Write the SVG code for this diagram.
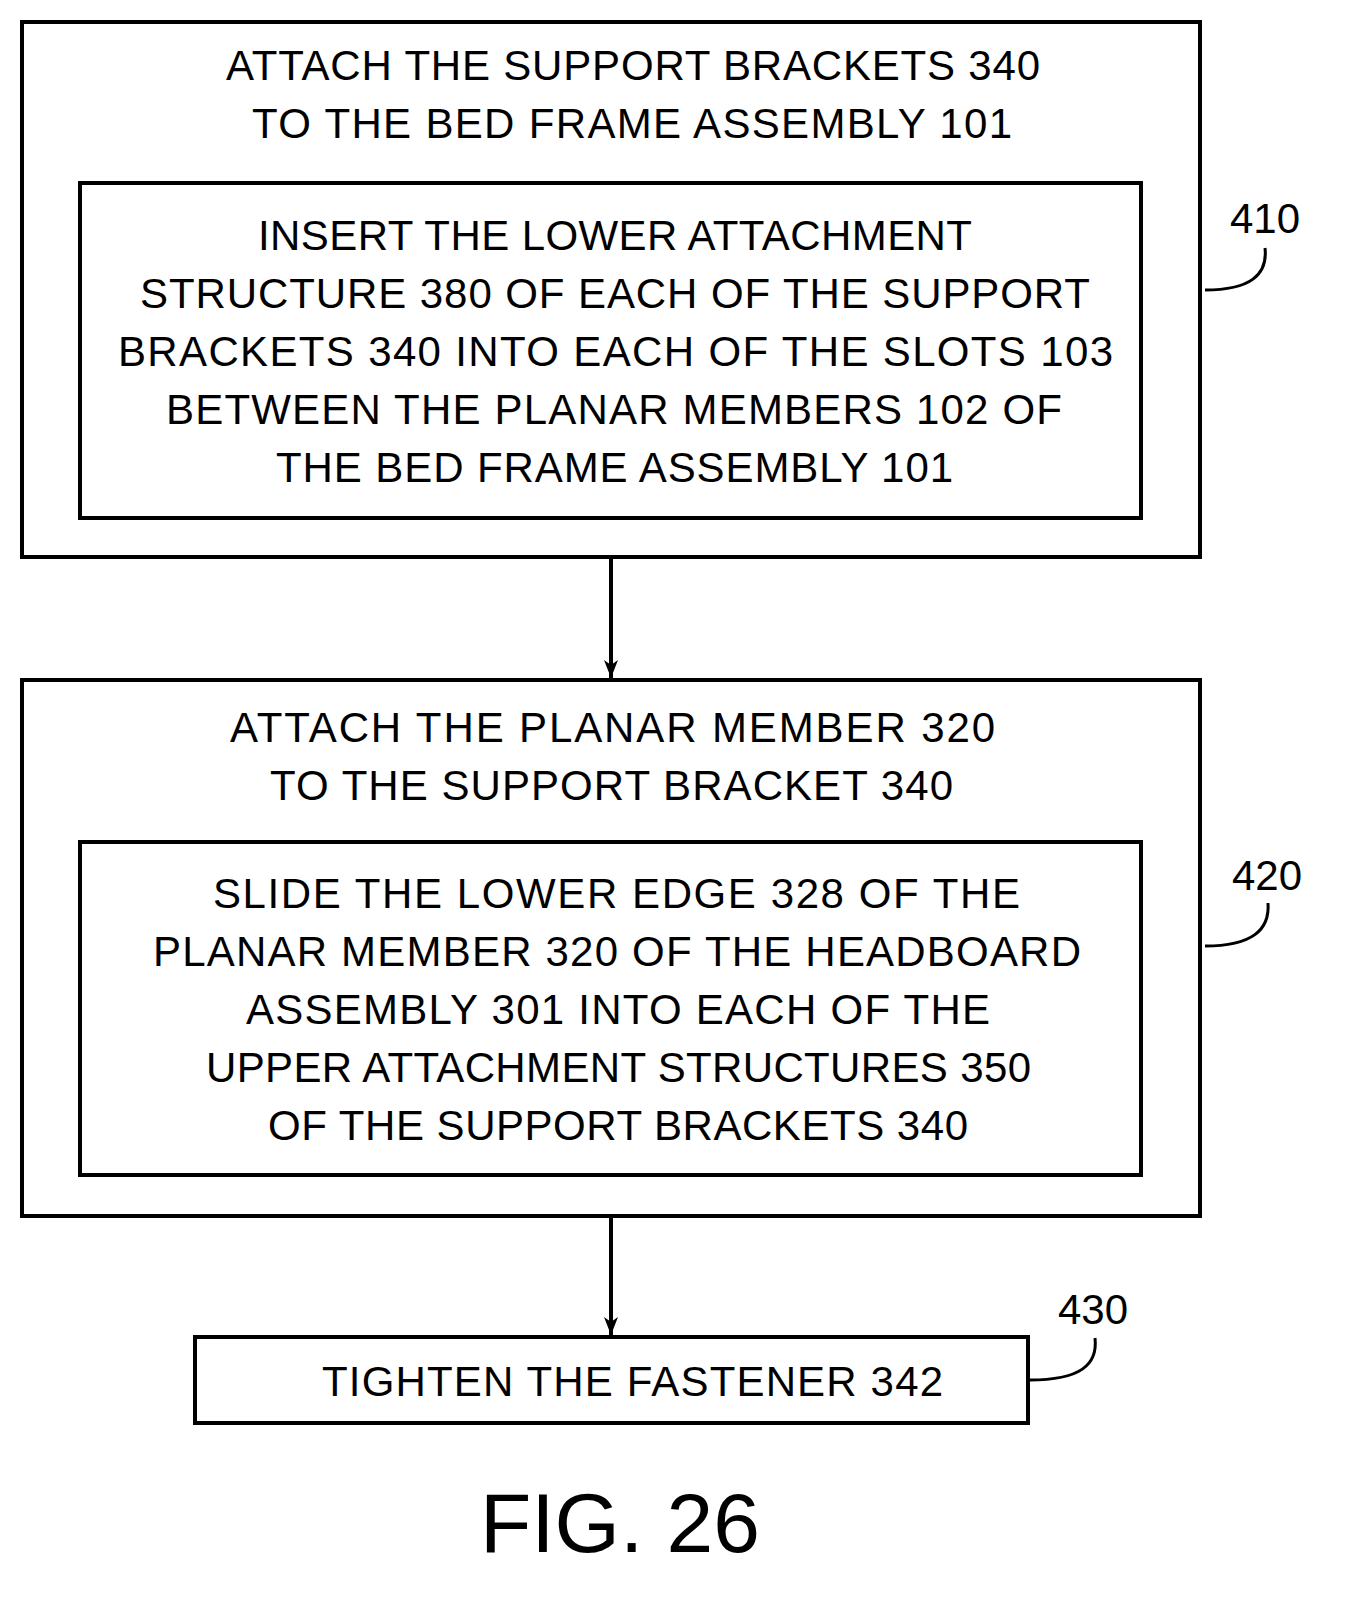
<svg xmlns="http://www.w3.org/2000/svg" width="1346" height="1604" viewBox="0 0 1346 1604">
<style>
.b{fill:none;stroke:#000;stroke-width:4}
.t{font-family:"Liberation Sans",Arial,sans-serif;font-size:42px;fill:#000}
.l{fill:none;stroke:#000;stroke-width:3}
.c{fill:none;stroke:#000;stroke-width:4}
</style>
<defs><marker id="a" markerWidth="18" markerHeight="14" refX="18" refY="7" orient="auto" markerUnits="userSpaceOnUse" viewBox="0 0 18 14"><path d="M0,0 L18,7 L0,14 L5,7 Z" fill="#000"/></marker></defs>
<rect width="1346" height="1604" fill="#fff"/>
<g id="n410">
<rect class="b" x="22" y="22" width="1178" height="535"/>
<text class="t" x="226" y="80" textLength="814" lengthAdjust="spacing">ATTACH THE SUPPORT BRACKETS 340</text>
<text class="t" x="252" y="138" textLength="760" lengthAdjust="spacing">TO THE BED FRAME ASSEMBLY 101</text>
<rect class="b" x="80" y="183" width="1061" height="335"/>
<text class="t" x="258" y="250" textLength="714" lengthAdjust="spacing">INSERT THE LOWER ATTACHMENT</text>
<text class="t" x="140" y="308" textLength="950" lengthAdjust="spacing">STRUCTURE 380 OF EACH OF THE SUPPORT</text>
<text class="t" x="118" y="366" textLength="995" lengthAdjust="spacing">BRACKETS 340 INTO EACH OF THE SLOTS 103</text>
<text class="t" x="166" y="424" textLength="896" lengthAdjust="spacing">BETWEEN THE PLANAR MEMBERS 102 OF</text>
<text class="t" x="276" y="482" textLength="677" lengthAdjust="spacing">THE BED FRAME ASSEMBLY 101</text>
<text class="t" x="1230" y="233">410</text>
<path class="l" d="M1265,248 C1268,275 1250,290 1205,290"/>
</g>
<g id="n420">
<rect class="b" x="22" y="680" width="1178" height="536"/>
<text class="t" x="230" y="742" textLength="765" lengthAdjust="spacing">ATTACH THE PLANAR MEMBER 320</text>
<text class="t" x="270" y="800" textLength="683" lengthAdjust="spacing">TO THE SUPPORT BRACKET 340</text>
<rect class="b" x="80" y="842" width="1061" height="333"/>
<text class="t" x="213" y="908" textLength="807" lengthAdjust="spacing">SLIDE THE LOWER EDGE 328 OF THE</text>
<text class="t" x="153" y="966" textLength="928" lengthAdjust="spacing">PLANAR MEMBER 320 OF THE HEADBOARD</text>
<text class="t" x="246" y="1024" textLength="744" lengthAdjust="spacing">ASSEMBLY 301 INTO EACH OF THE</text>
<text class="t" x="206" y="1082" textLength="825" lengthAdjust="spacing">UPPER ATTACHMENT STRUCTURES 350</text>
<text class="t" x="268" y="1140" textLength="700" lengthAdjust="spacing">OF THE SUPPORT BRACKETS 340</text>
<text class="t" x="1232" y="890">420</text>
<path class="l" d="M1268,903 C1270,930 1252,946 1205,946"/>
</g>
<g id="n430">
<rect class="b" x="195" y="1337" width="833" height="86"/>
<text class="t" x="322" y="1396" textLength="621" lengthAdjust="spacing">TIGHTEN THE FASTENER 342</text>
<text class="t" x="1058" y="1324">430</text>
<path class="l" d="M1095,1338 C1098,1365 1080,1380 1030,1380"/>
</g>
<g id="connectors">
<line class="c" x1="611" y1="559" x2="611" y2="678" marker-end="url(#a)"/>
<line class="c" x1="611" y1="1218" x2="611" y2="1335" marker-end="url(#a)"/>
</g>
<text x="620" y="1552" text-anchor="middle" style="font-family:'Liberation Sans',Arial,sans-serif;font-size:84px">FIG. 26</text>
</svg>
